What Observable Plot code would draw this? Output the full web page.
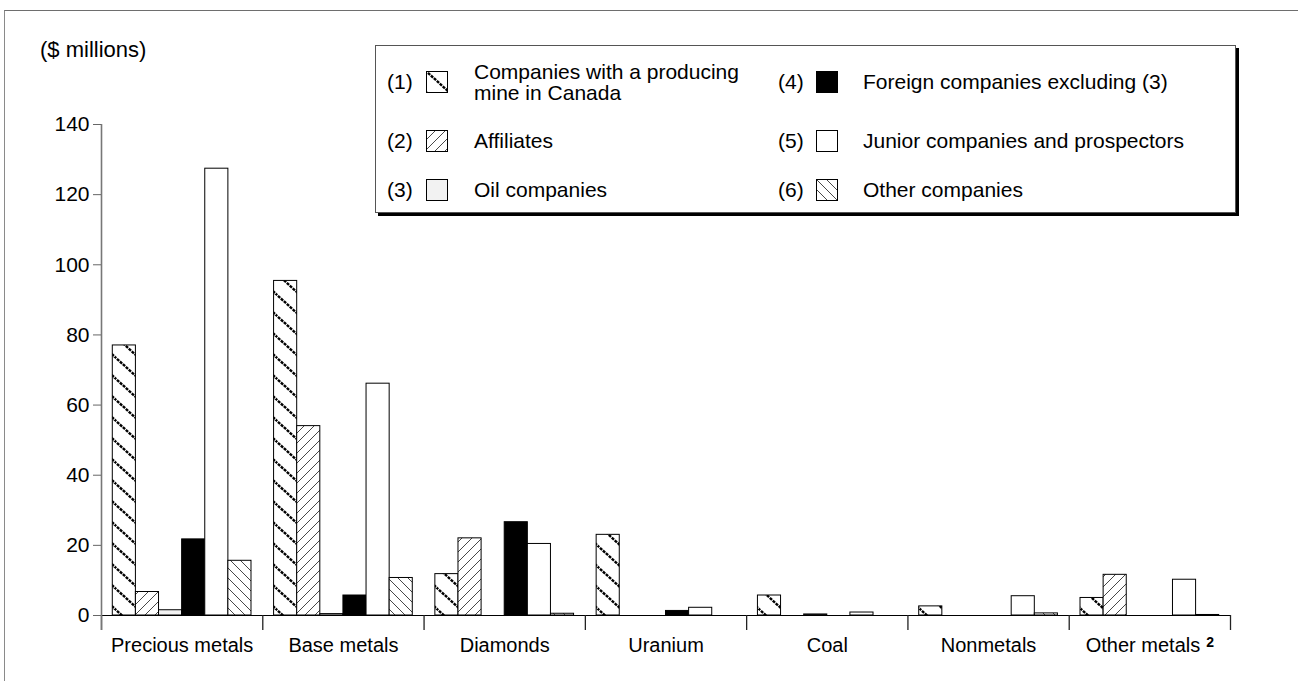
<!DOCTYPE html>
<html>
<head>
<meta charset="utf-8">
<script src="https://cdn.jsdelivr.net/npm/d3@7"></script>
<script src="https://cdn.jsdelivr.net/npm/@observablehq/plot@0.6"></script>
<style>
  body { margin: 0; background: #fff; font-family: "Liberation Sans", Arial, Helvetica, sans-serif; }
  #wrap { position: relative; width: 1298px; height: 681px; overflow: hidden; background: #fff; }
  #frame { position: absolute; left: 4px; top: 10px; width: 1400px; height: 800px; border-top: 1.5px solid #6e6e6e; border-left: 1.5px solid #8a8a8a; }
  #chart { position: absolute; left: 0; top: 0; }
  #ylabel { position: absolute; left: 40px; top: 37px; font-size: 22px; color: #000; }
  #legend { position: absolute; left: 375px; top: 45px; width: 859px; height: 166px; border: 1px solid #555; background: #fff; box-shadow: 3px 3px 0 #000; font-size: 21px; color: #000; }
  .num { position: absolute; transform: translateY(-50%); }
  .sw { position: absolute; transform: translateY(-50%); width: 22px; height: 22px; }
  .txt { position: absolute; transform: translateY(-50%); line-height: 20.5px; white-space: nowrap; }
</style>
</head>
<body>
<div id="wrap">
  <div id="frame"></div>
  <div id="chart"></div>
  <div id="ylabel">($ millions)</div>
  <div id="legend"></div>
</div>
<svg width="0" height="0" style="position:absolute;left:0;top:0">
  <defs>
    <pattern id="pat1" patternUnits="userSpaceOnUse" width="23" height="21">
      <rect width="23" height="21" fill="#fff"/>
      <line x1="-1" y1="-0.9" x2="24" y2="21.9" stroke="#000" stroke-width="2.4" stroke-dasharray="3 1"/>
      <line x1="21" y1="-1.8" x2="25" y2="1.8" stroke="#000" stroke-width="2.4"/>
      <line x1="-2" y1="19.2" x2="2" y2="22.8" stroke="#000" stroke-width="2.4"/>
    </pattern>
    <pattern id="pat2" patternUnits="userSpaceOnUse" width="10" height="10">
      <rect width="10" height="10" fill="#fff"/>
      <line x1="-1" y1="11" x2="11" y2="-1" stroke="#333" stroke-width="0.9"/>
      <line x1="-2" y1="2" x2="2" y2="-2" stroke="#333" stroke-width="0.9"/>
      <line x1="8" y1="12" x2="12" y2="8" stroke="#333" stroke-width="0.9"/>
    </pattern>
    <pattern id="pat6" patternUnits="userSpaceOnUse" width="10" height="10">
      <rect width="10" height="10" fill="#fff"/>
      <line x1="-1" y1="-1" x2="11" y2="11" stroke="#333" stroke-width="0.9"/>
      <line x1="8" y1="-2" x2="12" y2="2" stroke="#333" stroke-width="0.9"/>
      <line x1="-2" y1="8" x2="2" y2="12" stroke="#333" stroke-width="0.9"/>
    </pattern>
  </defs>
</svg>
<script>
// ---- data ----
const categories = ["Precious metals", "Base metals", "Diamonds", "Uranium", "Coal", "Nonmetals", "Other metals"];
const footnoteCategory = "Other metals";
const footnoteMark = "2";
const seriesNames = [
  "Companies with a producing mine in Canada",
  "Affiliates",
  "Oil companies",
  "Foreign companies excluding (3)",
  "Junior companies and prospectors",
  "Other companies"
];
const seriesNumbers = ["(1)", "(2)", "(3)", "(4)", "(5)", "(6)"];
const producingMine = [77.0, 95.4, 11.8, 23.0, 5.7, 2.6, 5.0];
const affiliates    = [6.7, 54.0, 22.0, 0, 0, 0, 11.6];
const oilCompanies  = [1.5, 0.4, 0, 0, 0.3, 0, 0];
const foreign       = [21.7, 5.7, 26.6, 1.3, 0, 0, 0];
const juniors       = [127.4, 66.1, 20.4, 2.2, 0.85, 5.5, 10.2];
const otherCos      = [15.6, 10.7, 0.5, 0, 0, 0.6, 0.15];
const yTicks = [0, 20, 40, 60, 80, 100, 120, 140];

// ---- styles ----
const fills = ["url(#pat1)", "url(#pat2)", "#f2f2f2", "#000", "#fff", "url(#pat6)"];
const seriesValues = [producingMine, affiliates, oilCompanies, foreign, juniors, otherCos];

const rows = [];
seriesValues.forEach((vals, si) => {
  vals.forEach((v, ci) => {
    if (v > 0) rows.push({category: categories[ci], ci, series: seriesNames[si], si, value: v});
  });
});

const groupPad = 0.07;
const barW = (1 - 2 * groupPad) / seriesNames.length;
const boundaries = d3.range(categories.length + 1);

const chart = Plot.plot({
  width: 1298,
  height: 681,
  marginLeft: 101,
  marginRight: 68,
  marginTop: 124,
  marginBottom: 66,
  style: {fontFamily: "'Liberation Sans', Arial, Helvetica, sans-serif", fontSize: "20px", background: "transparent", color: "#000"},
  x: {domain: [0, categories.length], axis: null},
  y: {domain: [0, 140], axis: null},
  color: {domain: seriesNames, range: fills},
  marks: [
    Plot.rectY(rows, {
      x1: d => d.ci + groupPad + d.si * barW,
      x2: d => d.ci + groupPad + (d.si + 1) * barW,
      y: "value",
      fill: "series",
      stroke: "#000",
      strokeWidth: 1
    }),
    Plot.ruleY([0], {x1: 0, x2: categories.length, stroke: "#000", strokeWidth: 1.2}),
    Plot.ruleX(boundaries, {y1: 0, y2: 0, insetBottom: -15, stroke: "#222", strokeWidth: 1.3}),
    Plot.ruleX([0], {y1: 140, y2: 0, insetBottom: -15, stroke: "#777", strokeWidth: 1.6}),
    Plot.axisY({ticks: yTicks, tickSize: 8, tickPadding: 4, label: null, stroke: "#666", fill: "#000", fontSize: 21}),
    Plot.text(categories, {x: (d, i) => i + 0.5, y: () => 0, dy: 30, text: d => d, fill: "#000", fontSize: 20})
  ]
});
document.getElementById("chart").appendChild(chart);

// footnote superscript on the last category label
d3.select(chart).selectAll("text").each(function() {
  if (this.textContent === footnoteCategory) {
    d3.select(this).append("tspan").attr("font-weight", "bold").attr("font-size", 14).attr("dy", -5).attr("dx", 6).text(footnoteMark);
  }
});

// ---- legend ----
const legend = document.getElementById("legend");
const colX = [{num: 11, sw: 50, txt: 98}, {num: 402, sw: 440, txt: 487}];
const rowY = [36, 95, 144];
seriesNames.forEach((name, i) => {
  const c = colX[Math.floor(i / 3)], r = rowY[i % 3];
  const num = document.createElement("div");
  num.className = "num"; num.style.left = c.num + "px"; num.style.top = r + "px";
  num.textContent = seriesNumbers[i];
  legend.appendChild(num);
  const sw = document.createElementNS("http://www.w3.org/2000/svg", "svg");
  sw.setAttribute("class", "sw"); sw.setAttribute("width", 22); sw.setAttribute("height", 22);
  sw.style.left = c.sw + "px"; sw.style.top = r + "px";
  const rect = document.createElementNS("http://www.w3.org/2000/svg", "rect");
  rect.setAttribute("x", 0.5); rect.setAttribute("y", 0.5); rect.setAttribute("width", 21); rect.setAttribute("height", 21);
  rect.setAttribute("fill", fills[i]); rect.setAttribute("stroke", "#000"); rect.setAttribute("stroke-width", 1);
  sw.appendChild(rect);
  legend.appendChild(sw);
  const txt = document.createElement("div");
  txt.className = "txt"; txt.style.left = c.txt + "px"; txt.style.top = r + "px";
  if (i === 0) { txt.innerHTML = "Companies with a producing<br>mine in Canada"; }
  else txt.textContent = name;
  legend.appendChild(txt);
});
</script>
</body>
</html>
